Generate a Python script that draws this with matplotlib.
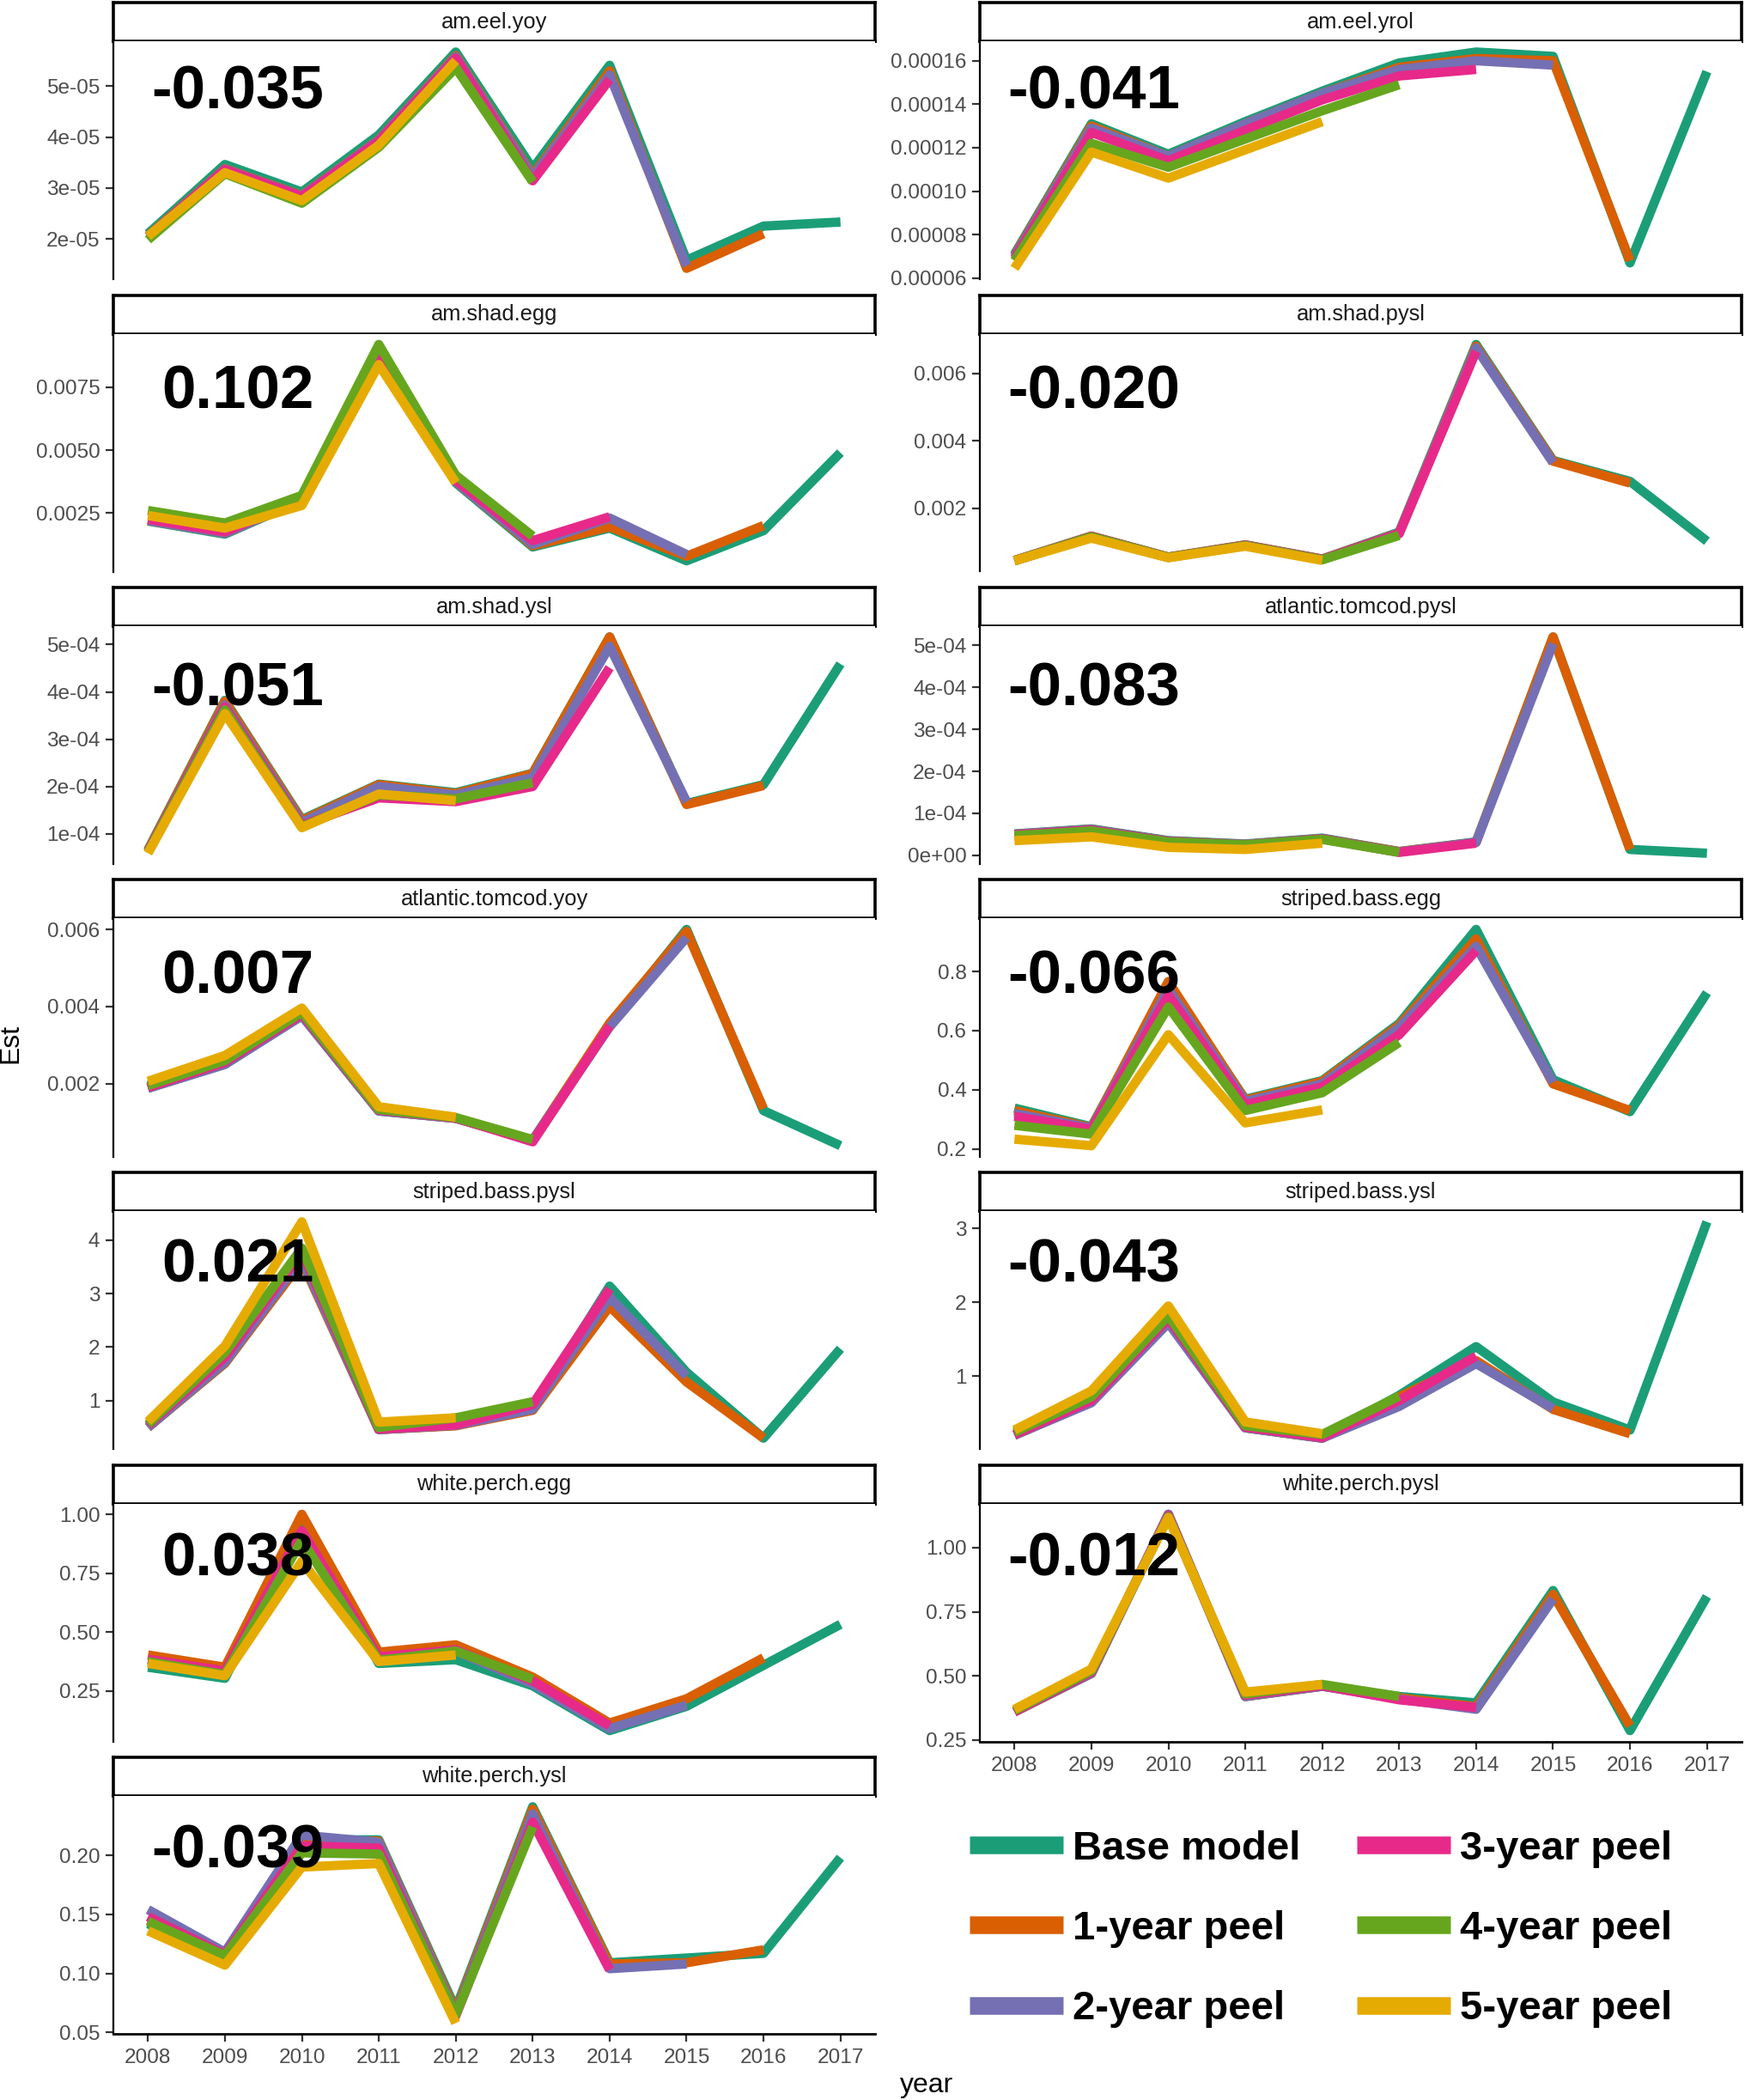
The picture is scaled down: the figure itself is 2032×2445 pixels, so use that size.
import matplotlib
matplotlib.use("Agg")
import matplotlib.pyplot as plt

plt.rcParams['font.family'] = ['Liberation Sans', 'DejaVu Sans']

# ---------------- data ----------------
years = [2008, 2009, 2010, 2011, 2012, 2013, 2014, 2015, 2016, 2017]
series_names = ['Base model', '1-year peel', '2-year peel',
                '3-year peel', '4-year peel', '5-year peel']
series_colors = ['#1b9e77', '#d95f02', '#7570b3', '#e7298a', '#66a61e', '#e6ab02']

panel_titles = ['am.eel.yoy', 'am.eel.yrol', 'am.shad.egg', 'am.shad.pysl',
                'am.shad.ysl', 'atlantic.tomcod.pysl', 'atlantic.tomcod.yoy',
                'striped.bass.egg', 'striped.bass.pysl', 'striped.bass.ysl',
                'white.perch.egg', 'white.perch.pysl', 'white.perch.ysl']
panel_stats = ['-0.035', '-0.041', '0.102', '-0.020', '-0.051', '-0.083', '0.007',
               '-0.066', '0.021', '-0.043', '0.038', '-0.012', '-0.039']

panel_ticks = [
    [2e-05, 3e-05, 4e-05, 5e-05],
    [0.00006, 0.00008, 0.00010, 0.00012, 0.00014, 0.00016],
    [0.0025, 0.0050, 0.0075],
    [0.002, 0.004, 0.006],
    [1e-04, 2e-04, 3e-04, 4e-04, 5e-04],
    [0.0, 1e-04, 2e-04, 3e-04, 4e-04, 5e-04],
    [0.002, 0.004, 0.006],
    [0.2, 0.4, 0.6, 0.8],
    [1, 2, 3, 4],
    [1, 2, 3],
    [0.25, 0.50, 0.75, 1.00],
    [0.25, 0.50, 0.75, 1.00],
    [0.05, 0.10, 0.15, 0.20],
]
panel_ticklabels = [
    ['2e-05', '3e-05', '4e-05', '5e-05'],
    ['0.00006', '0.00008', '0.00010', '0.00012', '0.00014', '0.00016'],
    ['0.0025', '0.0050', '0.0075'],
    ['0.002', '0.004', '0.006'],
    ['1e-04', '2e-04', '3e-04', '4e-04', '5e-04'],
    ['0e+00', '1e-04', '2e-04', '3e-04', '4e-04', '5e-04'],
    ['0.002', '0.004', '0.006'],
    ['0.2', '0.4', '0.6', '0.8'],
    ['1', '2', '3', '4'],
    ['1', '2', '3'],
    ['0.25', '0.50', '0.75', '1.00'],
    ['0.25', '0.50', '0.75', '1.00'],
    ['0.05', '0.10', '0.15', '0.20'],
]

# each panel: [base, 1-yr, 2-yr, 3-yr, 4-yr, 5-yr peel]
am_eel_yoy = [
    [2.10e-5, 3.46e-5, 2.92e-5, 4.04e-5, 5.67e-5, 3.38e-5, 5.41e-5, 1.58e-5, 2.25e-5, 2.33e-5],
    [2.06e-5, 3.38e-5, 2.85e-5, 3.95e-5, 5.60e-5, 3.25e-5, 5.30e-5, 1.42e-5, 2.10e-5],
    [2.05e-5, 3.37e-5, 2.84e-5, 3.94e-5, 5.58e-5, 3.22e-5, 5.22e-5, 1.47e-5],
    [2.04e-5, 3.36e-5, 2.83e-5, 3.92e-5, 5.55e-5, 3.14e-5, 5.13e-5],
    [1.98e-5, 3.28e-5, 2.70e-5, 3.80e-5, 5.36e-5, 3.12e-5],
    [2.05e-5, 3.30e-5, 2.75e-5, 3.84e-5, 5.50e-5],
]
am_eel_yrol = [
    [7.1e-5, 13.1e-5, 11.7e-5, 13.2e-5, 14.6e-5, 15.9e-5, 16.4e-5, 16.2e-5, 6.7e-5, 15.5e-5],
    [7.05e-5, 13.0e-5, 11.6e-5, 13.1e-5, 14.5e-5, 15.7e-5, 16.1e-5, 16.0e-5, 6.8e-5],
    [7.0e-5, 12.9e-5, 11.6e-5, 13.1e-5, 14.5e-5, 15.6e-5, 16.0e-5, 15.8e-5],
    [6.9e-5, 12.7e-5, 11.4e-5, 12.8e-5, 14.2e-5, 15.3e-5, 15.6e-5],
    [6.8e-5, 12.2e-5, 11.1e-5, 12.4e-5, 13.7e-5, 14.9e-5],
    [6.45e-5, 11.8e-5, 10.6e-5, 11.9e-5, 13.2e-5],
]
am_shad_egg = [
    [0.00218, 0.00166, 0.0030, 0.0091, 0.0037, 0.00115, 0.0019, 0.0006, 0.0018, 0.0049],
    [0.0022, 0.0017, 0.0030, 0.0090, 0.00375, 0.0012, 0.00195, 0.00078, 0.0020],
    [0.0022, 0.0017, 0.0030, 0.0089, 0.00375, 0.00125, 0.0023, 0.00085],
    [0.00225, 0.00175, 0.00305, 0.0089, 0.0038, 0.0014, 0.00235],
    [0.0026, 0.0021, 0.0032, 0.0092, 0.0040, 0.00158],
    [0.0024, 0.0019, 0.0028, 0.0084, 0.0037],
]
am_shad_pysl = [
    [0.00046, 0.00118, 0.00056, 0.00092, 0.00050, 0.00130, 0.00685, 0.00342, 0.00280, 0.00103],
    [0.00046, 0.00118, 0.00056, 0.00092, 0.00050, 0.00128, 0.00680, 0.00340, 0.00275],
    [0.00045, 0.00117, 0.00055, 0.00091, 0.00049, 0.00127, 0.00675, 0.00335],
    [0.00045, 0.00117, 0.00055, 0.00091, 0.00049, 0.00125, 0.00665],
    [0.00045, 0.00116, 0.00055, 0.00090, 0.00048, 0.00120],
    [0.00045, 0.00112, 0.00054, 0.00088, 0.00046],
]
am_shad_ysl = [
    [0.66e-4, 3.82e-4, 1.30e-4, 2.05e-4, 1.87e-4, 2.28e-4, 5.16e-4, 1.64e-4, 2.04e-4, 4.59e-4],
    [0.65e-4, 3.80e-4, 1.28e-4, 2.04e-4, 1.85e-4, 2.27e-4, 5.16e-4, 1.62e-4, 2.02e-4],
    [0.63e-4, 3.72e-4, 1.24e-4, 2.00e-4, 1.82e-4, 2.19e-4, 4.96e-4, 1.68e-4],
    [0.62e-4, 3.68e-4, 1.18e-4, 1.76e-4, 1.68e-4, 2.00e-4, 4.51e-4],
    [0.61e-4, 3.62e-4, 1.15e-4, 1.82e-4, 1.74e-4, 2.08e-4],
    [0.59e-4, 3.54e-4, 1.13e-4, 1.84e-4, 1.70e-4],
]
atlantic_tomcod_pysl = [
    [0.51e-4, 0.63e-4, 0.35e-4, 0.27e-4, 0.41e-4, 0.09e-4, 0.32e-4, 5.20e-4, 0.14e-4, 0.05e-4],
    [0.50e-4, 0.62e-4, 0.34e-4, 0.26e-4, 0.40e-4, 0.09e-4, 0.31e-4, 5.20e-4, 0.14e-4],
    [0.50e-4, 0.62e-4, 0.34e-4, 0.26e-4, 0.40e-4, 0.08e-4, 0.31e-4, 5.04e-4],
    [0.49e-4, 0.60e-4, 0.33e-4, 0.25e-4, 0.39e-4, 0.07e-4, 0.29e-4],
    [0.47e-4, 0.58e-4, 0.32e-4, 0.25e-4, 0.38e-4, 0.07e-4],
    [0.35e-4, 0.44e-4, 0.19e-4, 0.14e-4, 0.29e-4],
]
atlantic_tomcod_yoy = [
    [0.00188, 0.00250, 0.00376, 0.00129, 0.00110, 0.00053, 0.00350, 0.00600, 0.00130, 0.00039],
    [0.00190, 0.00252, 0.00378, 0.00130, 0.00110, 0.00053, 0.00357, 0.00595, 0.00135],
    [0.00188, 0.00250, 0.00376, 0.00129, 0.00110, 0.00053, 0.00347, 0.00579],
    [0.00190, 0.00255, 0.00380, 0.00131, 0.00111, 0.00049, 0.00350],
    [0.00195, 0.00260, 0.00385, 0.00133, 0.00112, 0.00055],
    [0.00206, 0.00273, 0.00396, 0.00140, 0.00113],
]
striped_bass_egg = [
    [0.338, 0.275, 0.750, 0.368, 0.431, 0.624, 0.942, 0.434, 0.326, 0.728],
    [0.330, 0.272, 0.766, 0.365, 0.428, 0.618, 0.910, 0.420, 0.330],
    [0.320, 0.270, 0.740, 0.360, 0.420, 0.610, 0.885, 0.425],
    [0.310, 0.266, 0.720, 0.350, 0.410, 0.586, 0.870],
    [0.280, 0.250, 0.680, 0.330, 0.390, 0.560],
    [0.233, 0.211, 0.586, 0.288, 0.332],
]
striped_bass_pysl = [
    [0.51, 1.70, 3.64, 0.46, 0.54, 0.84, 3.14, 1.53, 0.30, 1.97],
    [0.50, 1.70, 3.60, 0.46, 0.53, 0.82, 2.76, 1.35, 0.30],
    [0.50, 1.72, 3.65, 0.46, 0.54, 0.84, 2.93, 1.46],
    [0.54, 1.81, 3.78, 0.47, 0.55, 0.93, 3.09],
    [0.56, 1.90, 3.85, 0.50, 0.68, 0.98],
    [0.61, 2.02, 4.34, 0.60, 0.68],
]
striped_bass_ysl = [
    [0.20, 0.65, 1.74, 0.30, 0.16, 0.74, 1.40, 0.65, 0.27, 3.09],
    [0.20, 0.65, 1.74, 0.30, 0.16, 0.72, 1.21, 0.55, 0.22],
    [0.20, 0.64, 1.72, 0.30, 0.16, 0.59, 1.17, 0.56],
    [0.21, 0.67, 1.78, 0.31, 0.17, 0.67, 1.27],
    [0.24, 0.72, 1.82, 0.33, 0.21, 0.73],
    [0.27, 0.80, 1.95, 0.38, 0.22],
]
white_perch_egg = [
    [0.351, 0.304, 0.945, 0.367, 0.383, 0.272, 0.082, 0.185, 0.359, 0.533],
    [0.403, 0.351, 1.000, 0.415, 0.446, 0.309, 0.114, 0.217, 0.391],
    [0.383, 0.330, 0.930, 0.390, 0.420, 0.280, 0.090, 0.190],
    [0.385, 0.335, 0.930, 0.395, 0.425, 0.293, 0.103],
    [0.375, 0.320, 0.890, 0.380, 0.420, 0.300],
    [0.367, 0.315, 0.800, 0.375, 0.403],
]
white_perch_pysl = [
    [0.360, 0.510, 1.130, 0.420, 0.460, 0.420, 0.395, 0.833, 0.287, 0.810],
    [0.360, 0.510, 1.130, 0.420, 0.460, 0.415, 0.380, 0.818, 0.305],
    [0.360, 0.510, 1.130, 0.420, 0.460, 0.410, 0.370, 0.800],
    [0.360, 0.515, 1.125, 0.425, 0.462, 0.407, 0.377],
    [0.365, 0.520, 1.120, 0.430, 0.467, 0.420],
    [0.370, 0.527, 1.117, 0.437, 0.467],
]
white_perch_ysl = [
    [0.142, 0.115, 0.213, 0.213, 0.070, 0.241, 0.109, 0.113, 0.117, 0.198],
    [0.145, 0.116, 0.212, 0.212, 0.068, 0.239, 0.108, 0.109, 0.120],
    [0.154, 0.118, 0.217, 0.211, 0.066, 0.235, 0.104, 0.108],
    [0.148, 0.116, 0.208, 0.206, 0.064, 0.228, 0.103],
    [0.144, 0.115, 0.202, 0.201, 0.065, 0.224],
    [0.136, 0.107, 0.190, 0.193, 0.058],
]

panel_data = [am_eel_yoy, am_eel_yrol, am_shad_egg, am_shad_pysl, am_shad_ysl,
              atlantic_tomcod_pysl, atlantic_tomcod_yoy, striped_bass_egg,
              striped_bass_pysl, striped_bass_ysl, white_perch_egg,
              white_perch_pysl, white_perch_ysl]

# ---------------- layout ----------------
W, H = 2032, 2445
DPI = 200
fig = plt.figure(figsize=(W / DPI, H / DPI), dpi=DPI)

col_left = [132, 1141]
col_width = 887
row_pitch = 340.5
strip_top0 = 3
strip_h = 45
panel_h = 277
stat_x = [0.163, 0.150]
stat_y = [0.715, 0.686, 0.667, 0.686, 0.703, 0.697, 0.698]

TICK_FS = 8.8
STRIP_FS = 9.2
TICK_COLOR = '#4d4d4d'

n = len(panel_titles)
for i in range(n):
    r, c = divmod(i, 2)
    top = strip_top0 + row_pitch * r
    left = col_left[c] / W
    w = col_width / W
    # strip
    sax = fig.add_axes([left, 1 - (top + strip_h) / H, w, strip_h / H])
    sax.set_xticks([])
    sax.set_yticks([])
    sax.set_facecolor('white')
    for sp in sax.spines.values():
        sp.set_linewidth(1.3)
        sp.set_color('black')
    sax.text(0.5, 0.5, panel_titles[i], ha='center', va='center',
             fontsize=STRIP_FS, color='#1a1a1a', transform=sax.transAxes)

    ax = fig.add_axes([left, 1 - (top + strip_h + panel_h) / H, w, panel_h / H])
    data = panel_data[i]
    for k, vals in enumerate(data):
        ax.plot(years[:len(vals)], vals, color=series_colors[k], lw=3.9,
                solid_capstyle='butt', solid_joinstyle='round', zorder=2 + k)
    allv = [v for s in data for v in s]
    lo, hi = min(allv), max(allv)
    pad = 0.05 * (hi - lo)
    ax.set_yticks(panel_ticks[i], panel_ticklabels[i])
    ax.set_ylim(lo - pad, hi + pad)
    ax.set_xlim(2008 - 0.45, 2017 + 0.45)
    ax.set_xticks(years, [str(y) for y in years])
    for s in ['top', 'right']:
        ax.spines[s].set_visible(False)
    ax.spines['left'].set_linewidth(0.8)
    ax.spines['left'].set_color('black')
    is_bottom = (i == n - 1) or (i == n - 2)
    ax.tick_params(axis='y', length=3.2, width=0.8, color='#333333', pad=2.4,
                   labelsize=TICK_FS, labelcolor=TICK_COLOR)
    if is_bottom:
        ax.spines['bottom'].set_linewidth(1.0)
        ax.spines['bottom'].set_color('black')
        ax.tick_params(axis='x', length=3.2, width=0.8, color='#333333', pad=3,
                       labelsize=TICK_FS, labelcolor=TICK_COLOR)
    else:
        ax.spines['bottom'].set_visible(False)
        ax.tick_params(axis='x', bottom=False, labelbottom=False)
    ax.text(stat_x[c], stat_y[r], panel_stats[i], transform=ax.transAxes,
            ha='center', va='baseline', fontsize=25.5, fontweight='bold',
            color='black', zorder=20)

# axis titles
fig.text(0.006, 0.503, 'Est', rotation=90, ha='center', va='center', fontsize=11.5)
fig.text(0.531, 0.001, 'year', ha='center', va='bottom', fontsize=11.5)

# legend
handles = [plt.Line2D([], [], color=series_colors[k], lw=7.4, solid_capstyle='butt')
           for k in range(len(series_names))]
fig.legend(handles, series_names, loc='upper left', bbox_to_anchor=(0.5556, 0.1285),
           ncol=2, frameon=False, prop={'weight': 'bold', 'size': 17},
           handlelength=2.3, handletextpad=0.25, labelspacing=1.04,
           columnspacing=1.38, borderpad=0, borderaxespad=0)

fig.savefig('out.png', dpi=DPI, facecolor='white')
